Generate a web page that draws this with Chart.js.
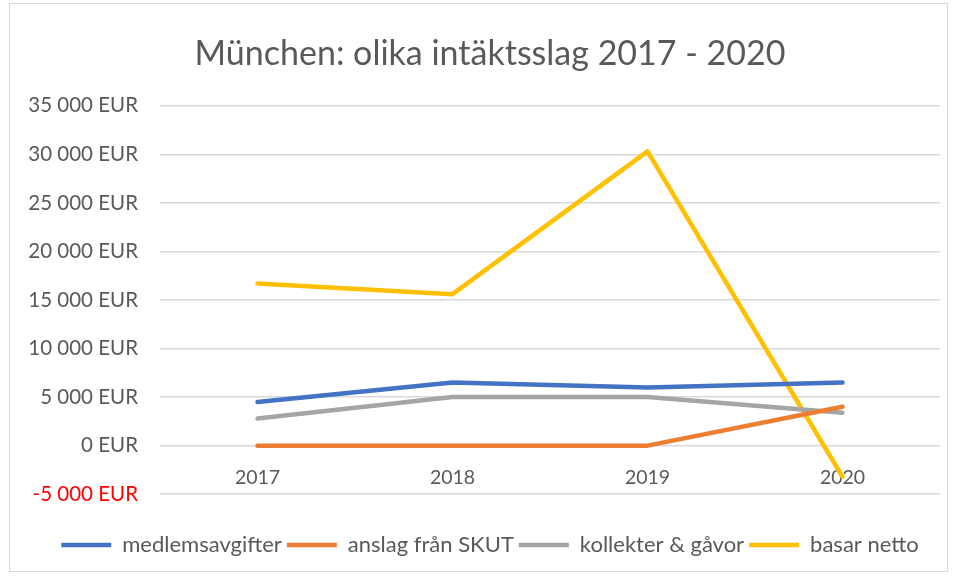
<!DOCTYPE html>
<html>
<head>
<meta charset="utf-8">
<script src="https://cdn.jsdelivr.net/npm/chart.js@4/dist/chart.umd.min.js"></script>
<style>
  html, body { margin: 0; padding: 0; background: #fff; overflow: hidden; }
  #frame {
    position: absolute; left: 9px; top: 3px;
    width: 939px; height: 569px;
    border: 1px solid #d9d9d9; box-sizing: border-box;
  }
  /* canvas runs a bit past the frame so title and legend centre where Excel put them */
  #wrap {
    position: absolute; left: 10px; top: 4px;
    width: 960px; height: 567px;
  }
</style>
</head>
<body>
<div id="frame"></div>
<div id="wrap"><canvas id="chart"></canvas></div>
<script>
const years = ['2017', '2018', '2019', '2020']
const medlemsavgifter = [4500, 6500, 6000, 6500]
const anslagSkut = [0, 0, 0, 4000]
const kollekter = [2800, 5000, 5000, 3400]
const basarNetto = [16700, 15600, 30300, -3200]

const yMin = -5000
const yMax = 35000
const yStep = 5000

const textGrey = '#595959'
const font = 'Lato, "Open Sans", sans-serif'

function eur(v) {
  const s = String(Math.abs(v)).replace(/\B(?=(\d{3})+(?!\d))/g, ' ')
  return (v < 0 ? '-' : '') + s + ' EUR'
}

function line(label, data, color) {
  return {
    label: label,
    data: data,
    borderColor: color,
    backgroundColor: color,
    borderWidth: 4.5,
    borderCapStyle: 'round',
    borderJoinStyle: 'round',
    pointRadius: 0,
    pointHoverRadius: 0,
    tension: 0,
  }
}

document.addEventListener('DOMContentLoaded', function () {
  const ctx = document.getElementById('chart').getContext('2d')

  new Chart(ctx, {
    type: 'line',
    data: {
      labels: years,
      datasets: [
        line('medlemsavgifter', medlemsavgifter, '#4472C4'),
        line('anslag från SKUT', anslagSkut, '#ED7D31'),
        line('kollekter & gåvor', kollekter, '#A5A5A5'),
        line('basar netto', basarNetto, '#FFC000'),
      ],
    },
    options: {
      responsive: true,
      maintainAspectRatio: false,
      animation: false,
      layout: { padding: { left: 0, right: 0, top: 0, bottom: 5 } },
      plugins: {
        title: {
          display: true,
          text: 'München: olika intäktsslag 2017 - 2020',
          color: textGrey,
          font: { family: font, size: 34, weight: 'normal' },
          padding: { top: 30, bottom: 31 },
        },
        legend: {
          position: 'bottom',
          title: { display: true, text: '', padding: { top: 0, bottom: 18 }, font: { size: 14 } },
          labels: {
            usePointStyle: true,
            pointStyle: 'line',
            pointStyleWidth: 50,
            boxWidth: 50,
            padding: 5,
            color: textGrey,
            font: { family: font, size: 22 },
          },
        },
        tooltip: { enabled: false },
      },
      scales: {
        x: {
          position: { y: 0 },
          offset: true,
          grid: { display: false },
          border: { display: false },
          ticks: {
            padding: 12,
            color: textGrey,
            font: { family: font, size: 19.5 },
          },
        },
        y: {
          min: yMin,
          max: yMax,
          ticks: {
            stepSize: yStep,
            padding: 22,
            color: function (c) { return c.tick && c.tick.value < 0 ? '#FF0000' : textGrey },
            font: { family: font, size: 20.5 },
            callback: function (v) { return eur(v) },
          },
          grid: { color: '#d9d9d9', lineWidth: 1.5, drawTicks: false },
          border: { display: false },
          afterFit: function (scale) { scale.width = 150 },
        },
        // empty right-hand spacer, keeps the plot's right edge inside the frame
        yRight: {
          position: 'right',
          grid: { display: false },
          border: { display: false },
          ticks: { display: false },
          afterFit: function (scale) { scale.width = 30 },
        },
      },
    },
  })
})
</script>
</body>
</html>
